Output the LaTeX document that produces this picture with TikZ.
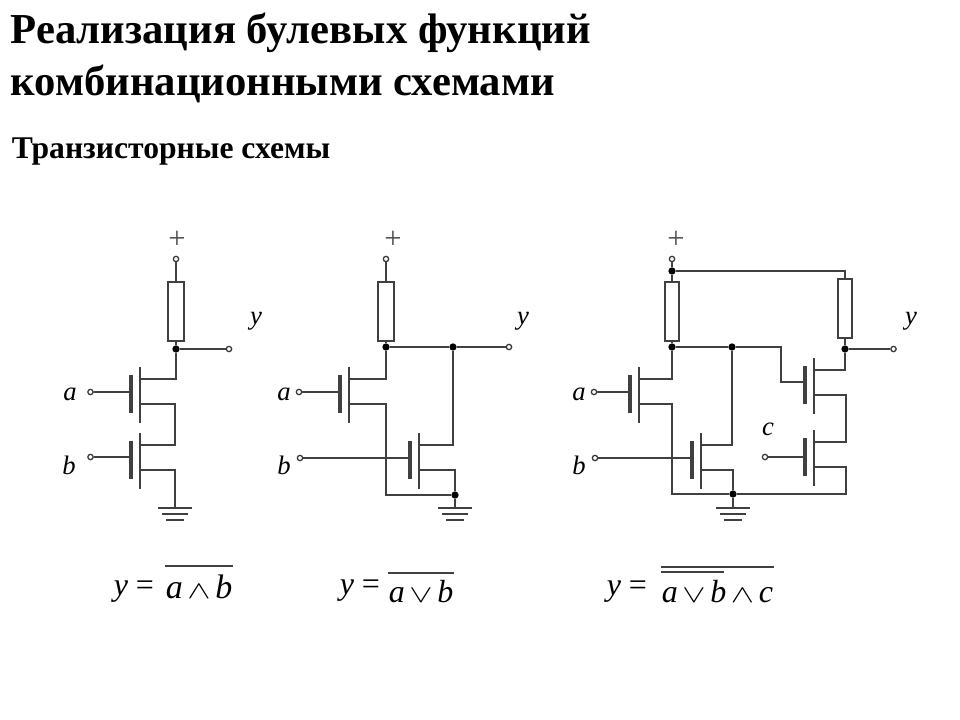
\documentclass[tikz,border=0pt]{standalone}
\usepackage{amssymb}
\usepackage{amsmath}
\usepackage{fontspec}
\setmainfont{Liberation Serif}
\usepackage{tikz}

% transistor: name, x, y of the middle of the channel
\newcommand{\mosfet}[3]{
    \begin{scope}[shift={(#2,#3)}]
        \coordinate (#1-g) at (-9,-2.5);
        \coordinate (#1-d) at (0,-15.5);
        \coordinate (#1-s) at (0,9.5);
        \draw (0,-28) -- (0,28);
        \draw[gatebar] (-9,-20) -- (-9,18);
    \end{scope}
}

% ground: name, x, y of the top bar
\newcommand{\earth}[3]{
    \begin{scope}[shift={(#2,#3)}]
        \coordinate (#1) at (0,0);
        \draw (-17,0) -- (17,0);
        \draw (-13,6) -- (13,6);
        \draw (-9,12) -- (9,12);
    \end{scope}
}

% operators of the formulas
\newcommand{\opand}{\hspace{3.5pt}\scalebox{1.05}[0.75]{$\wedge$}\hspace{3.5pt}}
\newcommand{\opor}{\hspace{3.5pt}\scalebox{1.05}[0.75]{$\vee$}\hspace{3.5pt}}

\begin{document}
\begin{tikzpicture}[x=0.75pt,y=-0.75pt,wire/.style = {draw=black!75,line width=1.15pt},
        wire,
        gatebar/.style = {line width=2.3pt},
        term/.style = {circle,
            draw=black!78,
            fill=white,
            line width=0.95pt,
            inner sep=0pt,
            minimum size = 4pt},
        junction/.style = {circle,
            fill=black,
            inner sep=0pt,
            minimum size = 5.5pt},
        resistor/.style = {rectangle,
            draw=black!75,
            line width=1.1pt,
            inner sep=0pt,
            minimum height = 44.25pt},
        varname/.style = {font=\fontsize{20}{20}\selectfont\itshape,inner sep=0pt},
        formula/.style = {font=\fontsize{24}{24}\selectfont,inner sep=0pt,anchor=base west},
        plus/.style = {text=black!70,font=\fontsize{23}{23}\selectfont,inner sep=0pt}]

    \useasboundingbox (0,0) rectangle (960,720);

    % Headings
    \node[anchor=base west,inner sep=0pt,font=\fontsize{32}{32}\selectfont\bfseries] (title1) at (10,44) {Реализация булевых функций};
    \node[anchor=base west,inner sep=0pt,font=\fontsize{32}{32}\selectfont\bfseries] (title2) at (10,96) {комбинационными схемами};
    \node[anchor=base west,inner sep=0pt,font=\fontsize{23.7}{24}\selectfont\bfseries] (subtitle) at (11,159) {Транзисторные схемы};

    % Circuit 1
    \node[plus] (plusA) at (177,240) {+};
    \node[term] (vccA) at (176,259) {};
    \node[resistor,minimum width=12pt] (resA) at (176,311.5) {};
    \node[junction] (outA) at (176,349) {};
    \node[term] (yA) at (229,349) {};
    \node[varname] (ylabelA) at (256,321) {y};
    \node[term] (aA) at (90.5,392) {};
    \node[varname] (alabelA) at (70,394) {a};
    \node[term] (bA) at (90.5,457) {};
    \node[varname] (blabelA) at (69,465) {b};
    \coordinate (linkA) at (175,445);
    \mosfet{t1}{140}{394.5}
    \mosfet{t2}{140}{460.5}
    \earth{gndA}{175}{508}
    \draw (vccA) -- (resA) -- (outA);
    \draw (outA) -- (yA);
    \draw (aA) -- (aA -| t1-g);
    \draw (bA) -- (bA -| t2-g);
    \draw (outA) |- (t1-d);
    \draw (t1-s) -| (linkA) -- (t2-d);
    \draw (t2-s) -| (gndA);

    % Circuit 2
    \node[plus] (plusB) at (393,240) {+};
    \node[term] (vccB) at (386,259) {};
    \node[resistor,minimum width=12pt] (resB) at (386,311.5) {};
    \node[junction] (outB) at (386,347) {};
    \node[junction] (midB) at (453,347) {};
    \node[term] (yB) at (509,347) {};
    \node[varname] (ylabelB) at (523,321) {y};
    \node[term] (aB) at (299,392) {};
    \node[varname] (alabelB) at (284,394) {a};
    \node[term] (bB) at (300,458) {};
    \node[varname] (blabelB) at (284,465) {b};
    \node[junction] (lowB) at (455,495) {};
    \coordinate (cornerB) at (386,495);
    \mosfet{t3}{349}{394.5}
    \mosfet{t4}{419}{460.5}
    \earth{gndB}{455}{508}
    \draw (vccB) -- (resB) -- (outB);
    \draw (outB) -- (midB) -- (yB);
    \draw (aB) -- (aB -| t3-g);
    \draw (bB) -- (bB -| t4-g);
    \draw (outB) |- (t3-d);
    \draw (t3-s) -| (cornerB) -- (lowB);
    \draw (midB) |- (t4-d);
    \draw (t4-s) -| (lowB) -- (gndB);

    % Circuit 3
    \node[plus] (plusC) at (676,240) {+};
    \node[term] (vccC) at (672,259) {};
    \node[junction] (topC) at (672,271) {};
    \node[resistor,minimum width=10.5pt] (resC) at (672,311.5) {};
    \node[junction] (outC) at (672,347) {};
    \node[junction] (midC) at (732,347) {};
    \node[resistor,minimum width=10.5pt] (resD) at (845,308.5) {};
    \node[junction] (outD) at (845,349) {};
    \node[term] (yC) at (893.5,349) {};
    \node[varname] (ylabelC) at (911,321) {y};
    \node[term] (aC) at (594,392) {};
    \node[varname] (alabelC) at (579,394) {a};
    \node[term] (bC) at (595,458) {};
    \node[varname] (blabelC) at (579,465) {b};
    \node[term] (cC) at (765,457) {};
    \node[varname] (clabelC) at (768,429) {c};
    \node[junction] (lowC) at (733,494) {};
    \coordinate (bendC) at (781,382);
    \coordinate (cornerC) at (672,494);
    \coordinate (linkC) at (846,442);
    \coordinate (rightC) at (846,494);
    \mosfet{t5}{639}{394.5}
    \mosfet{t6}{701}{460.5}
    \mosfet{t7}{814}{385.5}
    \mosfet{t8}{814}{457.5}
    \earth{gndC}{733}{508}
    \draw (vccC) -- (topC) -- (resC) -- (outC);
    \draw (topC) -| (resD);
    \draw (resD) -- (outD) -- (yC);
    \draw (outC) -- (midC) -| (bendC) -- (bendC -| t7-g);
    \draw (aC) -- (aC -| t5-g);
    \draw (bC) -- (bC -| t6-g);
    \draw (cC) -- (cC -| t8-g);
    \draw (outC) |- (t5-d);
    \draw (t5-s) -| (cornerC) -- (lowC);
    \draw (midC) |- (t6-d);
    \draw (t6-s) -| (lowC) -- (gndC);
    \draw (outD) |- (t7-d);
    \draw (t7-s) -| (linkC) -- (t8-d);
    \draw (t8-s) -| (rightC) -- (lowC);

    % Formulas
    \node[formula] (eqA) at (113,595) {\textit{y} =};
    \node[formula,font=\fontsize{25.5}{26}\selectfont] (fA) at (165,598) {\textit{a}\opand\textit{b}};
    \draw (fA.west |- 0,566) -- (fA.east |- 0,566);
    \node[formula] (eqB) at (339,594) {\textit{y} =};
    \node[formula] (fB) at (388,602) {\textit{a}\opor\textit{b}};
    \draw (fB.west |- 0,573) -- (fB.east |- 0,573);
    \node[formula] (eqC) at (606,595) {\textit{y} =};
    \node[formula] (fC) at (661,602) {\textit{a}\opor\textit{b}\opand\textit{c}};
    \draw (fC.west |- 0,567) -- (fC.east |- 0,567);
    \draw (fC.west |- 0,572) -- (724,572);
\end{tikzpicture}
\end{document}
